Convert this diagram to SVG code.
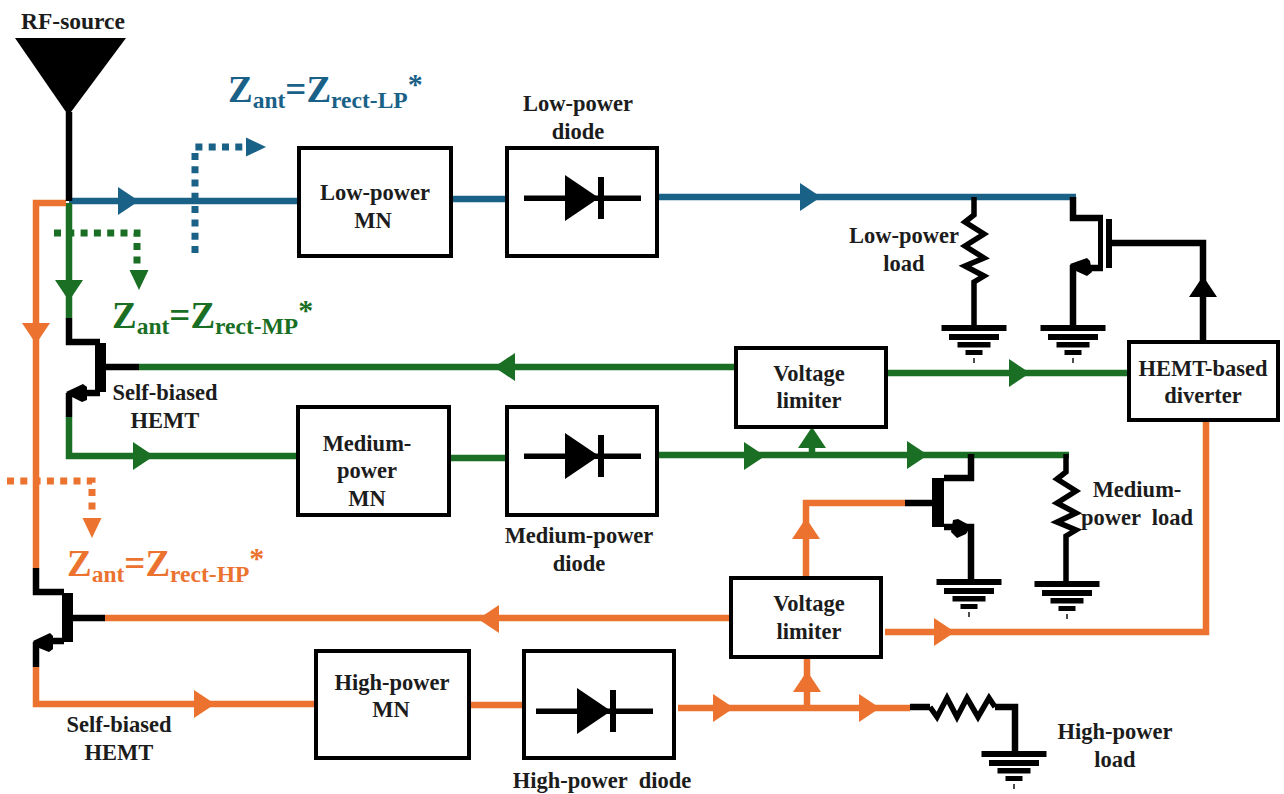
<svg xmlns="http://www.w3.org/2000/svg" width="1284" height="794" viewBox="0 0 1284 794">
<style>
.w{fill:none;stroke-width:6.500;stroke-linejoin:miter}
.k{stroke:#000}.b{stroke:#1a6188}.g{stroke:#1a6f24}.o{stroke:#ec732f}
.kf{fill:#000}.bf{fill:#1a6188}.gf{fill:#1a6f24}.of{fill:#ec732f}
.d{fill:none;stroke-width:7;stroke-dasharray:7 6.300}
.box{fill:#fff;stroke:#000;stroke-width:4}
.res{fill:none;stroke:#000;stroke-width:5.500;stroke-linejoin:miter}
text{font-family:"Liberation Serif","Times New Roman",serif;font-weight:bold}
.t{font-size:22.500px;fill:#1c1c1c;text-anchor:middle}
.z{font-size:37px}.s{font-size:23.500px}.a{font-size:30px}
</style>
<defs>
<polygon id="ar" points="0,-14 21,0 0,14"/>
<polygon id="sm" points="0,-9.500 20,0 0,9.500"/>
<g id="gnd" fill="#000"><rect x="-32.500" y="0" width="65" height="6"/><rect x="-25" y="9" width="50" height="6"/><rect x="-16.500" y="17" width="33" height="5.500"/><rect x="-8.500" y="25" width="17" height="5"/><rect x="-0.700" y="33" width="1.400" height="5"/></g>
<g id="diode"><rect x="-41" y="-2.500" width="117" height="5.500" fill="#000"/><polygon points="0,-23 0,23 34,0" fill="#000"/><rect x="33" y="-21" width="6" height="42" fill="#000"/></g>
</defs>
<rect width="1284" height="794" fill="#fff"/>
<g id="connectors">
<path class="w b" d="M69 201H298M451 199H507M659 197H1076"/>
<path class="w g" d="M69 203V318M69 417V456H298M139 367H736M449 458H507M659 455H1069M886 373H1129M812 445V455"/>
<path class="w o" d="M66 203H36V568M36 667V704H316M105 618H731M469 705H524M678 708H910M885 632H1206V420M806 578V503H905M807 657V708"/>
<path class="w k" d="M69 112V201M69 318V342H100M106 367H139M69 417V393M82 393H100M36 568V592H64M73 618H105M36 667V642M49 641H64"/>
<path class="w k" d="M1073 197V218H1103M1073 325V265M1085 268H1103M1112 243H1203V342"/>
<path class="w k" d="M971 454V478H944M905 503H932M944 527H971V579"/>
<path class="w k" d="M910 707H930M995 707H1015V751"/>
<path class="d b" d="M195 253V147H246"/>
<path class="d g" d="M54 233H137V265"/>
<path class="d o" d="M7 481H92V512"/>
<polygon class="kf" points="15,38 126,38 71,112 66,112"/>
<use href="#ar" x="118" y="201" class="bf"/><use href="#ar" x="800" y="197" class="bf"/>
<use href="#ar" transform="translate(69 280) rotate(90)" class="gf"/>
<use href="#ar" transform="translate(36 323) rotate(90)" class="of"/>
<use href="#ar" transform="translate(515 367) rotate(180)" class="gf"/>
<use href="#ar" x="1009" y="373" class="gf"/>
<use href="#ar" transform="translate(812 448) rotate(-90)" class="gf"/>
<use href="#ar" x="744" y="456" class="gf"/><use href="#ar" x="907" y="455" class="gf"/>
<use href="#ar" x="133" y="456" class="gf"/>
<use href="#ar" transform="translate(499 619) rotate(180)" class="of"/>
<use href="#ar" x="934" y="632" class="of"/>
<use href="#ar" transform="translate(806 539) rotate(-90)" class="of"/>
<use href="#ar" transform="translate(807 692) rotate(-90)" class="of"/>
<use href="#ar" x="859" y="708" class="of"/><use href="#ar" x="713" y="708" class="of"/>
<use href="#ar" x="194" y="704" class="of"/>
<use href="#ar" transform="translate(1203 297) rotate(-90)" class="kf"/>
<use href="#sm" x="246" y="147" class="bf"/>
<use href="#sm" transform="translate(139 270) rotate(90)" class="gf"/>
<use href="#sm" transform="translate(92 518) rotate(90)" class="of"/>
</g>
<g id="rf-source"><text class="t" style="font-size:23.500px" x="73" y="29">RF-source</text></g>
<g id="low-power-mn"><rect class="box" x="299" y="148" width="152" height="108"/><text class="t" x="375" y="200">Low-power</text><text class="t" x="373" y="228">MN</text></g>
<g id="low-power-diode"><rect class="box" x="507" y="148" width="150" height="108"/><use href="#diode" x="565" y="198"/><text class="t" x="578" y="111">Low-power</text><text class="t" x="578" y="139">diode</text></g>
<g id="voltage-limiter-top"><rect class="box" x="736" y="348" width="150" height="79"/><text class="t" x="809" y="381">Voltage</text><text class="t" x="809" y="408">limiter</text></g>
<g id="hemt-diverter"><rect class="box" x="1129" y="342" width="149" height="78"/><text class="t" x="1203" y="376">HEMT-based</text><text class="t" x="1203" y="403">diverter</text></g>
<g id="medium-power-mn"><rect class="box" x="298" y="407" width="151" height="108"/><text class="t" x="367" y="451">Medium-</text><text class="t" x="367" y="478">power</text><text class="t" x="367" y="506">MN</text></g>
<g id="medium-power-diode"><rect class="box" x="507" y="407" width="150" height="108"/><use href="#diode" x="565" y="456"/><text class="t" x="579" y="543">Medium-power</text><text class="t" x="579" y="571">diode</text></g>
<g id="voltage-limiter-bottom"><rect class="box" x="731" y="578" width="150" height="79"/><text class="t" x="809" y="611">Voltage</text><text class="t" x="809" y="639">limiter</text></g>
<g id="high-power-mn"><rect class="box" x="316" y="651" width="153" height="107"/><text class="t" x="392" y="690">High-power</text><text class="t" x="391" y="717">MN</text></g>
<g id="high-power-diode"><rect class="box" x="524" y="651" width="150" height="107"/><use href="#diode" x="577" y="711"/><text class="t" x="602" y="788" xml:space="preserve">High-power  diode</text></g>
<g id="low-power-load"><polyline class="res" points="974,197 974,215 965,222 984,234 965,246 984,258 965,266 984,276 974,282 974,325"/><use href="#gnd" x="974" y="325"/><text class="t" x="904" y="243">Low-power</text><text class="t" x="904" y="271">load</text></g>
<g id="low-hemt"><rect x="1098" y="217" width="5" height="52"/><rect x="1106" y="219" width="6" height="49"/><polygon points="1070,264 1087,258 1090,261 1092,272 1087,276 1076,271"/></g>
<g id="low-ground"><use href="#gnd" x="1073" y="325"/></g>
<g id="self-biased-hemt-mp"><rect x="95" y="343" width="11" height="49"/><polygon points="66,392 83,384 87,387 87,400 82,402 72,397"/><text class="t" x="165" y="400">Self-biased</text><text class="t" x="165" y="428">HEMT</text></g>
<g id="medium-hemt"><rect x="932" y="478" width="12" height="49"/><polygon points="953,520 958,519 971,526 966,534 957,538 951,532"/><use href="#gnd" x="969" y="579"/></g>
<g id="medium-power-load"><polyline class="res" points="1066,454 1066,472 1057,479 1076,491 1057,503 1076,513 1057,522 1076,530 1066,536 1066,581"/><use href="#gnd" x="1067" y="581"/><text class="t" x="1137" y="497">Medium-</text><text class="t" x="1137" y="525" xml:space="preserve">power  load</text></g>
<g id="self-biased-hemt-hp"><rect x="62" y="593" width="11" height="49"/><polygon points="33,641 50,633 53,636 53,649 49,652 39,648"/><text class="t" x="119" y="732">Self-biased</text><text class="t" x="119" y="760">HEMT</text></g>
<g id="high-power-load"><polyline class="res" points="930,707 937,717 947,698 957,717 967,698 978,717 989,698 995,707"/><use href="#gnd" x="1014" y="751"/><text class="t" x="1115" y="739">High-power</text><text class="t" x="1115" y="767">load</text></g>
<text x="228" y="102" fill="#1a6188"><tspan class="z">Z</tspan><tspan class="s" dy="6">ant</tspan><tspan class="z" dy="-6">=Z</tspan><tspan class="s" dy="6">rect-LP</tspan><tspan class="a" dy="-14">*</tspan></text>
<text x="112" y="328" fill="#1a6f24"><tspan class="z">Z</tspan><tspan class="s" dy="6">ant</tspan><tspan class="z" dy="-6">=Z</tspan><tspan class="s" dy="6">rect-MP</tspan><tspan class="a" dy="-14">*</tspan></text>
<text x="67" y="576" fill="#ec732f"><tspan class="z">Z</tspan><tspan class="s" dy="6">ant</tspan><tspan class="z" dy="-6">=Z</tspan><tspan class="s" dy="6">rect-HP</tspan><tspan class="a" dy="-14">*</tspan></text>
</svg>
